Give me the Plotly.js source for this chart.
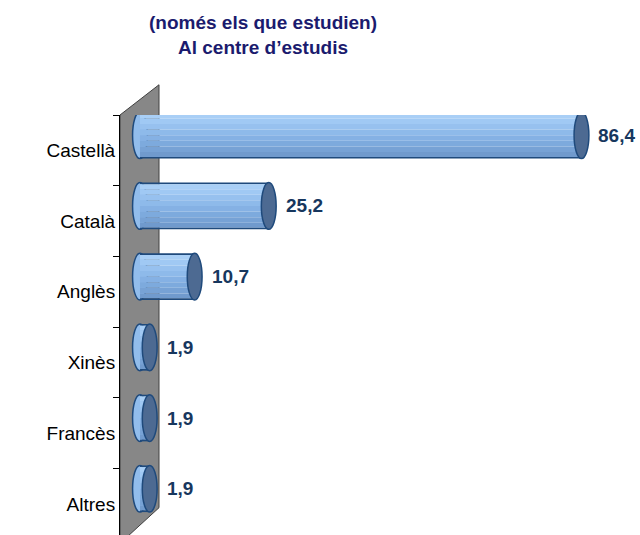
<!DOCTYPE html>
<html>
<head>
<meta charset="utf-8">
<script src="https://cdn.plot.ly/plotly-3.0.1.min.js"></script>
<style>html,body{margin:0;padding:0;background:#fff}#chart{width:640px;height:535px}</style>
</head>
<body>
<div id="chart"></div>
<script>
const categories = ["Castellà", "Català", "Anglès", "Xinès", "Francès", "Altres"];
const values = [86.4, 25.2, 10.7, 1.9, 1.9, 1.9];
const titleLines = ["(només els que estudien)", "Al centre d’estudis"];

const barW = 0.66;      // bar thickness in category units
const lift = 0.214;     // 3D depth lift of bars above the category centre
const capHalf = 1.45;   // half width of the end cap, in value units
const outline = "#1f4a7c";
const idx = categories.map((c, i) => i);

// gradient bands (fraction from top, fraction to, colour)
const bands = [
  [0.00, 0.035, outline],
  [0.035, 0.14, "#a9cff6"],
  [0.14, 0.26, "#a0c9f4"],
  [0.26, 0.38, "#97c1ef"],
  [0.38, 0.50, "#8ebaea"],
  [0.50, 0.62, "#85b1e4"],
  [0.62, 0.74, "#7daadd"],
  [0.74, 0.86, "#77a2d5"],
  [0.86, 0.965, "#709acd"],
  [0.965, 1.0, outline]
];

const traces = [];
bands.forEach(b => {
  const w = (b[1] - b[0]) * barW;
  traces.push({
    type: "bar", orientation: "h",
    y: categories, x: values,
    width: w, offset: -barW / 2 - lift + b[0] * barW,
    marker: {color: b[2], line: {width: 0}},
    cliponaxis: false,
    hoverinfo: "skip", showlegend: false
  });
});

const shapes = [{
  type: "path", xref: "paper", yref: "paper", layer: "below",
  path: "M 0 1 L 0.075 1.072 L 0.075 0.065 L 0 -0.02 Z",
  fillcolor: "#878787", line: {color: "#404040", width: 1}
}];
idx.forEach(i => {
  const y0 = i - lift - barW / 2, y1 = i - lift + barW / 2;
  shapes.push({
    type: "circle", xref: "x", yref: "y", layer: "below",
    x0: -capHalf, x1: capHalf, y0: y0, y1: y1,
    fillcolor: "#92bdec", line: {color: outline, width: 1.5}
  });
  shapes.push({
    type: "circle", xref: "x", yref: "y", layer: "above",
    x0: values[i] - capHalf, x1: values[i] + capHalf, y0: y0, y1: y1,
    fillcolor: "#4d6a92", line: {color: outline, width: 1.5}
  });
});

const annotations = idx.map(i => ({
  x: values[i], y: i - lift, xref: "x", yref: "y",
  text: values[i].toFixed(1).replace(".", ","),
  showarrow: false, xanchor: "left", xshift: 15,
  font: {family: "Liberation Sans, Arial, sans-serif", size: 19, color: "#17375e", weight: "bold"}
}));

const layout = {
  width: 640, height: 535,
  margin: {l: 120, r: 0, t: 115, b: 0},
  paper_bgcolor: "#ffffff", plot_bgcolor: "rgba(0,0,0,0)",
  barmode: "overlay",
  showlegend: false,
  title: {
    text: "<b>" + titleLines.join("<br>") + "</b>",
    x: 0.275, xref: "paper", xanchor: "center",
    y: 0.945, yref: "container", yanchor: "top",
    font: {family: "Liberation Sans, Arial, sans-serif", size: 19, color: "#1b1b6e"}
  },
  xaxis: {
    range: [-3.91, 97.85], visible: false, fixedrange: true
  },
  yaxis: {
    type: "category", categoryarray: categories, categoryorder: "array",
    range: [5.44, -0.5], autorange: false,
    showline: true, linecolor: "#000000", linewidth: 1,
    ticks: "outside", ticklen: 6, tickcolor: "#000000", tickson: "boundaries",
    showgrid: false, zeroline: false,
    tickfont: {family: "Liberation Sans, Arial, sans-serif", size: 19, color: "#000000"}
  },
  shapes: shapes,
  annotations: annotations
};

Plotly.newPlot("chart", traces, layout, {staticPlot: true, displayModeBar: false});
</script>
</body>
</html>
